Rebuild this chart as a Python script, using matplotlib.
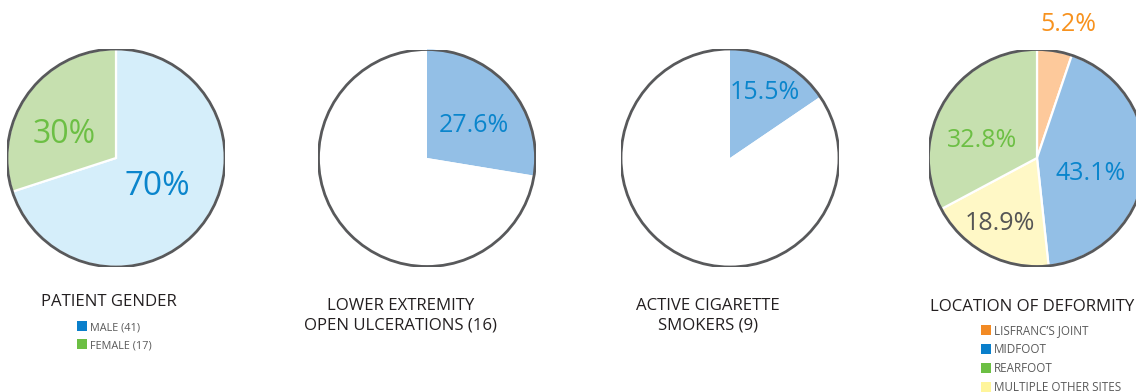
import matplotlib
matplotlib.use("Agg")
import matplotlib.pyplot as plt
from matplotlib.patches import Circle, Rectangle

W, H = 1136, 392
FONT = "Open Sans"

# --- data ---
gender_labels = ["MALE (41)", "FEMALE (17)"]
gender_values = [70, 30]

ulcer_values = [27.6, 72.4]
smoker_values = [15.5, 84.5]

# pie order (clockwise from top)
location_names = ["LISFRANC\u2019S JOINT", "MIDFOOT", "MULTIPLE OTHER SITES", "REARFOOT"]
location_values = [5.2, 43.1, 18.9, 32.8]
location_legend_order = [0, 1, 3, 2]

titles = [
    ["PATIENT GENDER"],
    ["LOWER EXTREMITY", "OPEN ULCERATIONS (16)"],
    ["ACTIVE CIGARETTE", "SMOKERS (9)"],
    ["LOCATION OF DEFORMITY"],
]

# --- styles ---
light_blue = "#d5eefa"
soft_green = "#c6e0af"
mid_blue = "#93bfe6"
peach = "#fdc99b"
pale_yellow = "#fff8c6"
txt_blue = "#0a85cc"
txt_green = "#6cbf44"
txt_orange = "#f7921e"
txt_grey = "#555555"
outline = "#58595b"


def px(x, y):
    return x / W, 1 - y / H


def pie_axes(cx, cy, r):
    ax = fig.add_axes([(cx - r) / W, (H - cy - r) / H, 2 * r / W, 2 * r / H])
    return ax


def draw_pie(ax, values, colors, sep=True):
    wedges, _ = ax.pie(values, colors=colors, startangle=90, counterclock=False,
                       radius=1, wedgeprops=dict(edgecolor="white" if sep else "none", linewidth=1.6))
    ax.add_patch(Circle((0, 0), 1, fill=False, edgecolor=outline, linewidth=2.0, zorder=5))
    # pie() resets the limits, so set them afterwards
    ax.set_xlim(-1, 1)
    ax.set_ylim(-1, 1)
    ax.set_aspect("equal")
    ax.axis("off")
    return wedges


def label(ax, x, y, s, color, size):
    ax.text(x, y, s, ha="center", va="baseline", color=color, fontsize=size,
            family=FONT, zorder=6, clip_on=False)


def title(lines, cx, baselines, size=12.1):
    for s, b in zip(lines, baselines):
        fig.text(*px(cx, b), s, ha="center", va="baseline", fontsize=size,
                 family=FONT, color="#231f20")


def legend(x, y0, step, names, colors, size):
    for i, (n, c) in enumerate(zip(names, colors)):
        yc = y0 + i * step
        fig.add_artist(Rectangle(px(x, yc + 5), 10 / W, 10 / H, transform=fig.transFigure,
                                 facecolor=c, edgecolor="none"))
        fig.text(*px(x + 13, yc + 4), n, ha="left", va="baseline", fontsize=size,
                 family=FONT, color="#5a5a5a")


fig = plt.figure(figsize=(W / 100, H / 100), dpi=100)

# pie 1 - gender
ax1 = pie_axes(116, 158, 109)
draw_pie(ax1, gender_values, [light_blue, soft_green])
label(ax1, 0.375, -0.343, f"{gender_values[0]}%", txt_blue, 24)
label(ax1, -0.48, 0.139, f"{gender_values[1]}%", txt_green, 23)
title(titles[0], 109, [306])
legend(77, 326, 18, gender_labels, ["#0a7fcb", "#6cbf44"], 7.8)

# pie 2 - ulcerations
ax2 = pie_axes(427, 158, 108.5)
draw_pie(ax2, ulcer_values, [mid_blue, "white"], sep=False)
label(ax2, 0.43, 0.24, f"{ulcer_values[0]}%", txt_blue, 18)
title(titles[1], 401, [310, 330])

# pie 3 - smokers
ax3 = pie_axes(730, 158, 109)
draw_pie(ax3, smoker_values, [mid_blue, "white"], sep=False)
label(ax3, 0.315, 0.537, f"{smoker_values[0]}%", txt_blue, 18)
title(titles[2], 708, [310, 330])

# pie 4 - location of deformity
ax4 = pie_axes(1037, 158, 108.5)
draw_pie(ax4, location_values, [peach, mid_blue, pale_yellow, soft_green])
label(ax4, 0.287, 1.167, f"{location_values[0]}%", txt_orange, 18)
label(ax4, 0.495, -0.204, f"{location_values[1]}%", txt_blue, 18)
label(ax4, -0.34, -0.667, f"{location_values[2]}%", txt_grey, 18)
label(ax4, -0.51, 0.10, f"{location_values[3]}%", txt_green, 18)
title(titles[3], 1032, [311])
legend_colors = ["#f28a24", "#0a7fcb", "#fff59b", "#6cbf44"]
legend(981, 330, 19, [location_names[i] for i in location_legend_order],
       [legend_colors[i] for i in location_legend_order], 8.4)

fig.savefig("out.png", dpi=100)
